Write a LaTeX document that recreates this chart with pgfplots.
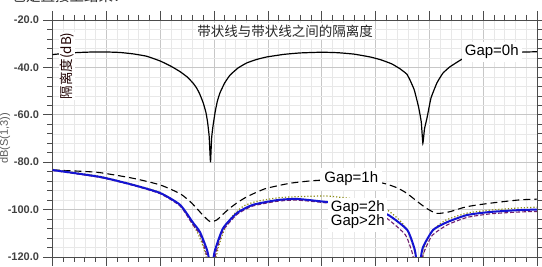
\documentclass[border=0pt]{standalone}
\usepackage{pgfplots}
\pgfplotsset{compat=1.18}
\usepackage{fontspec}
\setmainfont{Liberation Sans}
\newfontfamily\cjk{Noto Sans CJK SC}
\definecolor{olivedot}{RGB}{140,140,20}
\definecolor{purp}{RGB}{110,30,110}
\definecolor{blueline}{RGB}{20,20,210}
\begin{document}
\begin{tikzpicture}[x=1pt,y=1pt]
\begin{axis}[
  at={(52.5pt,10pt)}, anchor=south west,
  width=484.5pt, height=237pt, scale only axis,
  xmin=0, xmax=9, ymin=-120, ymax=-20,
  xtick={0,1,...,9}, minor x tick num=4,
  ytick={-120,-100,...,-20}, minor y tick num=4,
  xticklabels={},
  grid=both,
  major grid style={color=black!22, line width=0.6pt},
  minor grid style={color=black!9, line width=0.5pt},
  tick align=outside,
  major tick length=9pt, minor tick length=5pt,
  every tick/.style={color=black!70, line width=0.6pt},
  axis line style={color=black!70, line width=0.7pt},
  /pgf/number format/assume math mode=true,
  yticklabel={\pgfmathprintnumber[fixed,fixed zerofill,precision=1]{\tick}},
  yticklabel style={font=\bfseries\fontsize{11}{11}\selectfont, text=black!75, xshift=-1pt},
  clip=true,
]
% Gap=0h
\addplot[black, line width=1.2pt, smooth, tension=0.25] coordinates {
(0.00,-34.6) (0.25,-34.0) (0.5,-33.7) (0.75,-33.5) (1.0,-33.5) (1.25,-33.7) (1.5,-34.3) (1.75,-35.3) (2.0,-37.3) (2.2,-39.5) (2.37,-41.8) (2.5,-44) (2.61,-46.6) (2.68,-48.8) (2.74,-51.5) (2.80,-55) (2.85,-59) (2.88,-63) (2.91,-69) (2.935,-80) (2.955,-70) (2.98,-65) (3.02,-59) (3.06,-54.5) (3.11,-50.8) (3.2,-46.5) (3.3,-43.2) (3.45,-40.2) (3.61,-38.1) (3.8,-36.6) (3.98,-35.6) (4.3,-34.5) (4.6,-33.9) (5.0,-33.6) (5.3,-33.8) (5.6,-34.4) (5.9,-35.6) (6.1,-36.8) (6.3,-38.5) (6.45,-40.5) (6.58,-42.8) (6.64,-45.3) (6.72,-49.5) (6.80,-56.7) (6.85,-63) (6.88,-72) (6.91,-66) (6.96,-61) (7.03,-53) (7.14,-46.6) (7.25,-42.5) (7.38,-39.8) (7.61,-36.5) (7.8,-35.2) (8.0,-34.5) (8.4,-33.8) (8.8,-33.5) (9.0,-33.4)
};
% Gap=1h
\addplot[black, line width=1.1pt, dash pattern=on 7pt off 4pt, smooth, tension=0.4] coordinates {
(0,-83.3) (0.5,-83.8) (0.88,-84.4) (1.5,-86.8) (2.0,-89.6) (2.37,-93.3) (2.55,-96.5) (2.68,-99.5) (2.8,-102.5) (2.93,-105.1) (3.05,-104.4) (3.15,-102.3) (3.30,-99.3) (3.45,-96.8) (3.61,-94.6) (3.8,-92.6) (3.98,-91) (4.41,-88.9) (4.84,-87.8) (5.3,-87.3) (5.8,-87.8) (6.15,-88.9) (6.4,-90.8) (6.58,-93.1) (6.8,-97) (6.95,-99.5) (7.14,-101.6) (7.38,-100.9) (7.69,-98.8) (8.13,-97.3) (8.68,-95.9) (9,-95.6)
};
% olive dotted
\addplot[olivedot, line width=1.2pt, dotted, smooth, tension=0.35] coordinates {
(0,-83.0) (0.88,-86.0) (1.5,-89.4) (2.0,-92.8) (2.37,-98) (2.55,-104) (2.7,-110) (2.82,-117) (2.9,-124) (3.0,-124) (3.08,-116) (3.2,-108) (3.35,-102.5) (3.55,-98.5) (3.8,-96.5) (4.2,-95) (4.6,-94.5) (5.1,-94.3) (5.6,-95.5) (6.0,-97.5) (6.24,-100.5) (6.45,-104.5) (6.6,-109) (6.72,-117) (6.78,-124) (6.85,-124) (6.92,-115) (7.05,-109) (7.3,-104.5) (7.7,-101.5) (8.13,-100.2) (8.68,-99.3) (9,-99)
};
% Gap>2h purple dashed
\addplot[purp, line width=1.1pt, dash pattern=on 4pt off 2pt, smooth, tension=0.35] coordinates {
(0,-83.5) (0.88,-86.4) (1.5,-89.8) (2.0,-93.3) (2.37,-98.5) (2.61,-106.5) (2.74,-110.5) (2.85,-118) (2.9,-124) (2.98,-124) (3.05,-117) (3.17,-108.8) (3.43,-102) (3.72,-98.5) (4.17,-96.5) (4.54,-96) (5.1,-97.2) (5.5,-98.3) (5.9,-100.5) (6.2,-103.5) (6.55,-110.5) (6.68,-118) (6.74,-124) (6.82,-124) (6.9,-118) (7.05,-111) (7.33,-106.5) (7.7,-103.3) (8.13,-101.8) (8.68,-101) (9,-100.8)
};
% Gap=2h blue
\addplot[blueline, line width=2pt, smooth, tension=0.35] coordinates {
(0,-83.3) (0.88,-86.2) (1.5,-89.6) (2.0,-93) (2.37,-98) (2.61,-105.5) (2.74,-109.5) (2.87,-117) (2.93,-123) (2.97,-123) (3.02,-117) (3.17,-107.8) (3.43,-101.4) (3.72,-98) (4.17,-96) (4.54,-95.5) (5.1,-96.8) (5.5,-97.8) (5.9,-99.8) (6.24,-102.3) (6.59,-108.6) (6.73,-117) (6.77,-123) (6.82,-123) (6.88,-116) (7.07,-108.6) (7.33,-105.3) (7.70,-102.3) (8.13,-101) (8.68,-100.2) (9,-100)
};
\node[fill=white, inner sep=1.5pt, text=black!85, font=\cjk\fontsize{13.5}{13.5}\selectfont] at (axis cs:4.32,-24.6) {带状线与带状线之间的隔离度};
\node[fill=white, inner sep=1pt, rotate=90, text=black!80!red!60!black, font=\cjk\fontsize{13.5}{13.5}\selectfont] at (axis cs:0.27,-39.4) {隔离度(dB)};
\node[fill=white, inner sep=3pt, font=\fontsize{15}{15}\selectfont] at (axis cs:8.16,-33.5) {Gap=0h};
\node[fill=white, inner sep=4pt, font=\fontsize{15}{15}\selectfont] at (axis cs:5.55,-87.1) {Gap=1h};
\node[fill=white, inner sep=2.5pt, align=left, font=\fontsize{15}{14.5}\selectfont] at (axis cs:5.67,-102.2) {Gap=2h\\Gap>2h};
\end{axis}
\node[rotate=90, text=black!65, font=\fontsize{11}{11}\selectfont] at (5,128.5) {dB(S(1,3))};
\node[anchor=base west, text=black!80, font=\cjk\fontsize{14.5}{14.5}\selectfont] at (8,265.5) {也是直接上结果：};
\pgfresetboundingbox
\path[use as bounding box] (0,0) rectangle (542,267);
\end{tikzpicture}
\end{document}
